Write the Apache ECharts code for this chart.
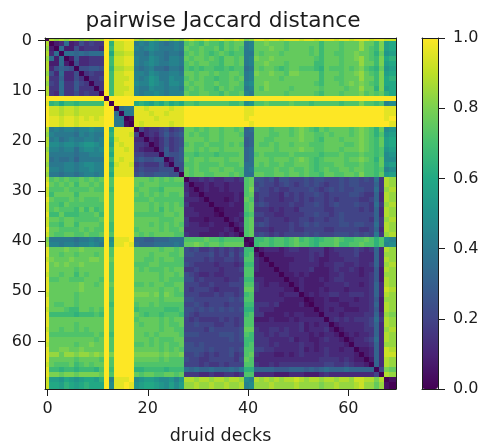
<!DOCTYPE html>
<html>
<head>
<meta charset="utf-8">
<style>html,body{margin:0;padding:0;background:#fff}#c{width:481px;height:443px;filter:blur(0.45px)}</style>
<script src="https://cdn.jsdelivr.net/npm/echarts@6/dist/echarts.min.js"></script>
</head>
<body>
<div id="c"></div>
<script>
// Upper triangle of the symmetric distance matrix.
// Each letter is one value: a = 0.00, b = 0.04, ... z = 1.00. Spaces only group letters.
const upperTriangle = [
"a wvwvwwvwvww z y zzzz wvwwvwwvwv xyxxyxxyxxyx uv yyxyy xyyyx yyxyy yxyyx yyyxy y xx",
"acdjcdgefee z q xxyy klkmlkjklk stsrtssrtstt kl ttutt tsttt tttrt ttstt tvttr u op",
"ajccgdeeed z r xxyy lklmlkkklk tsstsstrtsts kl tttut tsttt tstrt ttstt tvtsr u op",
"ajjijijjj z p wwxx kkjlkkjkkj ststsrstsrss kk tsttt stttt tstrt tsstt uttsq t no",
"achddeee z r xxyy lkkmlkjllk tsttstsrttst kl uttut ttttt ttsrt ttstt uvtsr u pq",
"agddeee z r xxyy lklmlkkllk ststtssrttst kl ttutt tsttt ttrrt ttstt tvttr u op",
"agghhg z q wwxx kjkljjikkj srsrssrrsrss jk tstts rstts ssrqt sssts tusrq t no",
"aefee z r xxyy llkmlkkllk ttsttstsstts kl uttut tsuut tttrt ttstt uvtsr u op",
"aeef z r xxxy lklnmkkmll ststssrsstst kl ttttt stttt tttrt tsstt tvttr u pq",
"aee z r xxyy mllnmlkmml tsttsstsstts lm ttutt ttttt ttsrt ttstu tutsr u pp",
"ae z r xxxy lkkmllkllk ststssrtstss kl tsutt ttstt tttst tttst tvttq u op",
"a z r xxyy lkllmlklll tssttssrtsst lk ttttt tsttt ttsrt ttstt tusts t qp",
"a z zzzz zzzzzzzzzz zzzzzzzzzzzz zz zzzzz zzzzz zzzzz zzzzz zzzzz z zz",
"a zzzz pqpoqprpqp ssrssssssrrs mn sstss sstss srsss ssrss sussr s lm",
"ajkk yyxyyyyxyy zzzzzzzzzzzz yy zzzzz zzzzz zzzzz zzzzz zzzzz z yy",
"akk yyyxyyxyyy zzzzzzzzzzzz yy zzzzz zzzzz zzzzz zzzzz zzzzz z yy",
"ab yyyyxyyyyy zzzzzzzzzzzz yz zzzzz zzzzz zzzzz zzzzz zzzzz z yz",
"a yxyyyyyxyy zzzzzzzzzzzz zy zzzzz zzzzz zzzzz zzzzz zzzzz z zy",
"afdeefgefg ttststtsttst ij tttst ttstu tsrts tttts tutsq t mn",
"adedfhfgh tstssttsttts ii tttss ttstu ttsst sttts tutsq s no",
"adcegefg ttttsttstttt hi ttsst ttttu ttsrt ttstt tutsr t op",
"acegefg stsstsssts ts hi tssts ttstt tssst tttss tutsr t op",
"aehefh ttststtstttt ij tttts ttttu ttsst ttstt tutsr s no",
"ahggh ssrsssrsssst ij stsss sstss sssrs sstss stssr s mn",
"adgh tsttstttsttt ij tttst ttstu tsrst tttst tutsq t mm",
"agg sstsssstssst jj tstss tsstt tsrss sttss stssr t no",
"ag tstssttsttss jk sssst sstss tsrst sstts ttssr s lm",
"a tsttsstttsts jj ttsst tstts tssrt tsstt sussr t no",
"addededdeede st ggfge ggfff gfggf ffgfg gfgfj e wv",
"accdcddcddd st fgffe fgfef gfgfe ffgfg gfffi e wv",
"acdccdcddd su gffef eefff fgfef gfgff ggffj e vw",
"accccccdc st effee dfefe ffgfe ffffg gfeei d wv",
"acccbcdc ts efeee deefe feffe fefff feefi d wv",
"acccdcc st fgfee eefee ffgfe fgfff gffej e vw",
"abcccc st eeede deedf ffffe effff fefei d wv",
"acccd rs ffeed deeee ffgff efgff ffffi d wv",
"acdc st eefee edeef feffe ffgff fffei e vw",
"acd st fgfee eefef gfgff ffggf ggffj e wv",
"ac st eeede eefee ffffe effff feefi d wv",
"a st fgfef effff gfgff fgggf gfgfk e vw",
"ab rrsrs srstr srqrs stsrr sstsq s ml",
"a rssrs srsts srqss strrs stssq s lm",
"acddd cdeed deeec deeee fedei d wv",
"accc cdddd dedec ddeee fdddi d vv",
"acc cccdd dedcc dddee edddi d wv",
"ac ccddd dddcd deedd eddei d vw",
"a ccddd deccc dedde dcddh c wv",
"accdc dcccc ddedd dcdeh c vv",
"accd cccdc deedd dddeh c wv",
"acd ccccd ddded dcdei d wv",
"ad cccdc dddcd dddei d xw",
"a cdcdd eedde eedei d wv",
"abccd ccddd cddeh c vv",
"accd ddccd dddei c wv",
"acd cddcc cddeh c wv",
"ad ddcdd ddeei d vu",
"a deded eeefj e wv",
"acddd ddefi d wv",
"acdd ddeei d vw",
"acd cddei d wv",
"ac ddefj d wv",
"a dddei d vv",
"accdi d xw",
"acdi d xx",
"aci d wv",
"ai d wv",
"a f ut",
"a wv",
"ab",
"a"
];
const xTicks = [0, 20, 40, 60];
const yTicks = [0, 10, 20, 30, 40, 50, 60];
const barTicks = [0, 0.2, 0.4, 0.6, 0.8, 1];
const viridis = ['#440154','#482475','#414487','#355f8d','#2a788e','#21918c','#22a884','#44bf70','#7ad151','#bddf26','#fde725'];
const titleText = 'pairwise Jaccard distance';
const xName = 'druid decks';

const size = upperTriangle.length;
const cells = [];
upperTriangle.forEach(function (row, i) {
  const letters = row.replace(/ /g, '');
  if (letters.length !== size - i) console.error('row', i, letters.length);
  for (let k = 0; k < letters.length; k++) {
    const v = (letters.charCodeAt(k) - 97) / 25;
    cells.push([i + k, i, v]);
    if (k > 0) cells.push([i, i + k, v]);
  }
});

// The image sits slightly up and to the left of its tick marks in the reference.
const shiftX = -0.3, shiftY = -0.35;
const lo = -0.5, hi = size - 0.5;
const ink = '#1c1c1c';
const font = 'DejaVu Sans';

function frameAxis(extra) {
  return Object.assign({
    type: 'value', z: 6, splitLine: { show: false }, axisTick: { show: false }, axisLabel: { show: false },
    axisLine: { show: true, onZero: false, lineStyle: { color: ink, width: 1 } }
  }, extra);
}
function tickedAxis(extra, ticks, margin) {
  return Object.assign({
    type: 'value', z: 6, splitLine: { show: false },
    axisLine: { show: true, onZero: false, lineStyle: { color: ink, width: 1 } },
    axisTick: { show: true, length: 7, customValues: ticks, lineStyle: { color: ink, width: 1 } },
    axisLabel: { show: true, customValues: ticks, margin: margin, color: ink, fontFamily: font, fontSize: 16,
      showMinLabel: true, showMaxLabel: true, hideOverlap: false }
  }, extra);
}

const chart = echarts.init(document.getElementById('c'), null, { renderer: 'canvas' });
chart.setOption({
  animation: false,
  backgroundColor: '#fff',
  title: {
    text: titleText, left: 218, top: 5, textAlign: 'center',
    textStyle: { color: ink, fontFamily: font, fontSize: 21.7, fontWeight: 'normal' }
  },
  grid: [
    { left: 45, top: 38, width: 351, height: 351, outerBoundsMode: 'none' },
    { left: 422, top: 38, width: 16, height: 351, outerBoundsMode: 'none' }
  ],
  xAxis: [
    tickedAxis({ gridIndex: 0, position: 'bottom', min: lo, max: hi, name: xName, nameLocation: 'middle', nameGap: 38,
      nameTextStyle: { color: ink, fontFamily: font, fontSize: 17.5 } }, xTicks, 12),
    frameAxis({ gridIndex: 0, position: 'top', min: lo, max: hi }),
    frameAxis({ gridIndex: 1, position: 'bottom', min: 0, max: 1 }),
    frameAxis({ gridIndex: 1, position: 'top', min: 0, max: 1 })
  ],
  yAxis: [
    tickedAxis({ gridIndex: 0, position: 'left', inverse: true, min: lo, max: hi }, yTicks, 13),
    frameAxis({ gridIndex: 0, position: 'right', inverse: true, min: lo, max: hi }),
    tickedAxis({ gridIndex: 1, position: 'right', min: 0, max: 1, axisLabel: { show: true, customValues: barTicks, margin: 15, color: ink, fontFamily: font, fontSize: 16,
      formatter: function (v) { return v.toFixed(1); } } }, barTicks, 15),
    frameAxis({ gridIndex: 1, position: 'left', min: 0, max: 1 })
  ],
  visualMap: {
    type: 'continuous', seriesIndex: 0, dimension: 2, min: 0, max: 1, calculable: false, realtime: false,
    left: 422, top: 38, itemWidth: 16, itemHeight: 351, padding: 0, showLabel: false, text: null,
    inRange: { color: viridis }
  },
  series: [{
    type: 'custom',
    coordinateSystem: 'cartesian2d',
    xAxisIndex: 0, yAxisIndex: 0,
    clip: true, silent: true, progressive: 0,
    encode: { x: 0, y: 1 },
    data: cells,
    renderItem: function (params, api) {
      const c = api.value(0), r = api.value(1);
      const a = api.coord([c - 0.5 + shiftX, r - 0.5 + shiftY]);
      const b = api.coord([c === size - 1 ? hi : c + 0.5 + shiftX, r === size - 1 ? hi : r + 0.5 + shiftY]);
      const x0 = Math.round(a[0]), y0 = Math.round(a[1]);
      return {
        type: 'rect',
        shape: { x: x0, y: y0, width: Math.round(b[0]) - x0, height: Math.round(b[1]) - y0 },
        style: { fill: api.visual('color') }
      };
    }
  }]
});
</script>
</body>
</html>
